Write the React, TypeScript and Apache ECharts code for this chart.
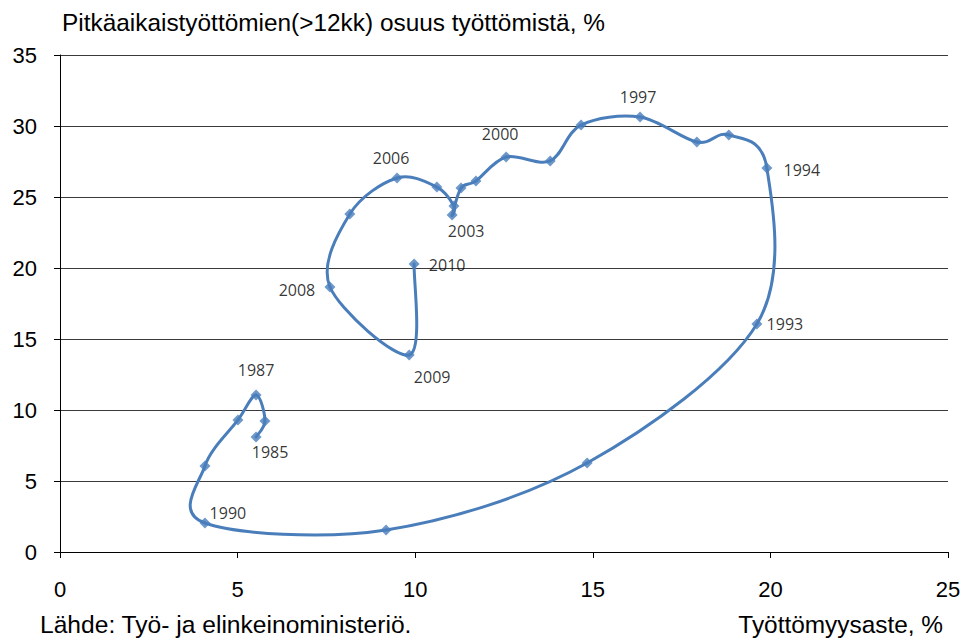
import React, { useEffect, useRef } from "react";
import * as echarts from "echarts";

const years = [
  1985, 1986, 1987, 1988, 1989, 1990, 1991, 1992, 1993, 1994, 1995, 1996, 1997,
  1998, 1999, 2000, 2001, 2002, 2003, 2004, 2005, 2006, 2007, 2008, 2009, 2010,
];
const unemploymentRate = [
  5.52, 5.77, 5.52, 5.01, 4.08, 4.08, 9.18, 14.84, 19.62, 19.9, 18.83, 17.93, 16.33,
  14.67, 13.8, 12.56, 11.71, 11.29, 11.04, 11.09, 10.61, 9.49, 8.16, 7.6, 9.83, 9.97,
];
const longTermShare = [
  8.1, 9.23, 11.06, 9.3, 6.06, 2.04, 1.55, 6.27, 16.06, 27.04, 29.37, 28.87, 30.63,
  30.07, 27.54, 27.82, 26.13, 25.63, 23.73, 24.37, 25.7, 26.34, 23.8, 18.66, 13.87, 20.28,
];
const labelledYears = [1985, 1987, 1990, 1993, 1994, 1997, 2000, 2003, 2006, 2008, 2009, 2010];
const labelOffsets: Record<number, [number, number]> = {
  1985: [14, 15],
  1987: [0, -25],
  1990: [23, -10],
  1993: [28, 0],
  1994: [35, 2],
  1997: [-2, -20],
  2000: [-6, -23],
  2003: [14, 16],
  2006: [-6, -20],
  2008: [-33, 3],
  2009: [23, 22],
  2010: [33, 1],
};

const titleText = "Pitkäaikaistyöttömien(>12kk) osuus työttömistä, %";
const sourceText = "Lähde: Työ- ja elinkeinoministeriö.";
const xTitleText = "Työttömyysaste, %";

const FONT = "'Liberation Sans', Arial, sans-serif";
const LABEL_FONT = "'Open Sans', 'Noto Sans', sans-serif";
const BLUE = "#4a7ebb";
const TENSION = 1 / 6;

export default function App() {
  const ref = useRef<HTMLDivElement>(null);
  useEffect(() => {
    if (!ref.current) return;
    const chart = echarts.init(ref.current, undefined, { renderer: "svg" });
    const n = years.length;
    const points = years.map((_, i) => [unemploymentRate[i], longTermShare[i]]);
    const scatterData = years.map((yr, i) => {
      const item: any = { value: points[i] };
      if (labelledYears.includes(yr)) {
        item.label = {
          show: true,
          position: "inside",
          offset: labelOffsets[yr],
          formatter: String(yr),
          color: "#000",
          fontFamily: LABEL_FONT,
          fontSize: 16,
        };
      }
      return item;
    });
    chart.setOption({
      animation: false,
      backgroundColor: "#fff",
      grid: { left: 60, right: 17, top: 55, bottom: 88, containLabel: false, outerBoundsMode: "none" },
      xAxis: {
        type: "value",
        min: 0,
        max: 25,
        interval: 5,
        axisLine: { show: true, onZero: false, lineStyle: { color: "#000", width: 1 } },
        axisTick: { show: true, length: 6, lineStyle: { color: "#000" } },
        axisLabel: { margin: 26, fontSize: 22, fontFamily: FONT, color: "#000" },
        splitLine: { show: false },
      },
      yAxis: {
        type: "value",
        min: 0,
        max: 35,
        interval: 5,
        axisLine: { show: true, onZero: false, lineStyle: { color: "#000", width: 1 } },
        axisTick: { show: true, length: 6, lineStyle: { color: "#000" } },
        axisLabel: { margin: 23, fontSize: 22, fontFamily: FONT, color: "#000" },
        splitLine: { show: true, lineStyle: { color: "#3a3a3a", width: 1 } },
      },
      graphic: [
        {
          type: "text",
          left: 62,
          top: 10,
          style: { text: titleText, fontSize: 24.4, fontFamily: FONT, fill: "#000" },
        },
        {
          type: "text",
          left: 40,
          top: 612,
          style: { text: sourceText, fontSize: 24.6, fontFamily: FONT, fill: "#000" },
        },
        {
          type: "text",
          right: 22,
          top: 612,
          style: { text: xTitleText, fontSize: 24.4, fontFamily: FONT, fill: "#000" },
        },
      ],
      series: [
        {
          type: "custom",
          coordinateSystem: "cartesian2d",
          data: points,
          clip: false,
          silent: true,
          renderItem: (params: any, api: any) => {
            const i = params.dataIndex;
            if (i >= n - 1) return { type: "group", children: [] };
            const p0 = api.coord(points[Math.max(i - 1, 0)]);
            const p1 = api.coord(points[i]);
            const p2 = api.coord(points[i + 1]);
            const p3 = api.coord(points[Math.min(i + 2, n - 1)]);
            return {
              type: "bezierCurve",
              shape: {
                x1: p1[0],
                y1: p1[1],
                x2: p2[0],
                y2: p2[1],
                cpx1: p1[0] + (p2[0] - p0[0]) * TENSION,
                cpy1: p1[1] + (p2[1] - p0[1]) * TENSION,
                cpx2: p2[0] - (p3[0] - p1[0]) * TENSION,
                cpy2: p2[1] - (p3[1] - p1[1]) * TENSION,
              },
              style: { stroke: BLUE, lineWidth: 3, fill: null, lineCap: "round", lineJoin: "round" },
            };
          },
        },
        {
          type: "scatter",
          data: scatterData,
          symbol: "diamond",
          symbolSize: 11,
          itemStyle: { color: BLUE },
          clip: false,
        },
      ],
    });
    return () => chart.dispose();
  }, []);
  return (
    <div
      ref={ref}
      style={{ position: "fixed", left: 0, top: 0, width: 965, height: 640 }}
    />
  );
}
